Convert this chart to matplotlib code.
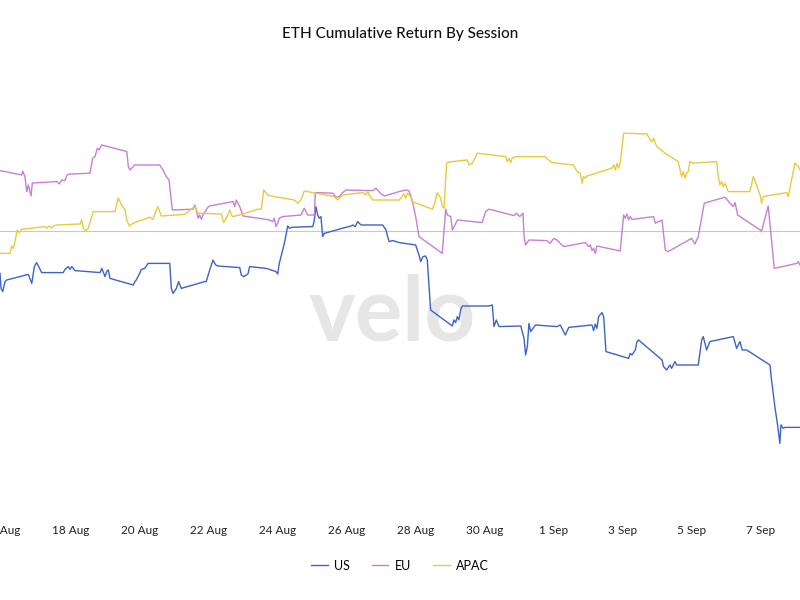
import matplotlib.pyplot as plt
import pandas as pd

# horas desde 16 Aug 00:00 e retorno acumulado (%) de cada sessao
us_h = [-1.4, -0.7, 0.5, 2.1, 3.3, 18.3, 20.7, 22.5, 24.1, 27.6, 42.6, 43.8, 46.1, 47.3, 48.5, 50.8,
        68.2, 69.4, 71.7, 72.8, 74.0, 75.1, 91.3, 92.5, 93.4, 94.6, 95.8, 96.9, 99.3, 101.6, 116.7,
        117.8, 119.0, 121.3, 122.9, 124.7, 141.0, 142.1, 144.5, 146.8, 148.7, 150.3, 165.4, 166.5,
        168.2, 171.1, 172.3, 183.9, 190.6, 191.8, 192.9, 195.3, 196.4, 197.6, 198.8, 199.9, 202.2,
        216.2, 217.3, 218.4, 219.6, 220.7, 221.9, 223.1, 224.2, 237.0, 242.8, 244.0, 245.8, 247.4,
        249.8, 264.8, 267.2, 268.3, 269.4, 271.8, 276.4, 287.8, 290.1, 291.3, 292.9, 294.7, 295.9,
        298.2, 313.3, 314.4, 315.6, 316.8, 317.9, 319.1, 320.2, 338.8, 341.1, 342.3, 343.9, 345.8,
        360.9, 363.2, 364.3, 365.5, 366.6, 367.8, 371.2, 386.1, 388.4, 391.9, 394.3, 410.5, 411.6,
        412.8, 413.9, 415.1, 417.4, 418.6, 420.2, 436.0, 437.1, 438.3, 440.6, 441.8, 442.9, 459.2,
        460.3, 462.4, 464.7, 465.9, 468.2, 469.4, 484.4, 486.8, 487.9, 490.2, 492.5, 508.8, 511.1,
        513.4, 515.0, 518.1, 534.3, 535.4, 537.7, 539.6, 540.5, 541.2, 541.9, 543.5, 544.7, 555.2]
us_v = [-2.12, -2.87, -3.03, -2.53, -2.45, -2.17, -2.62, -1.78, -1.58, -2.08, -2.08, -1.92, -1.78,
        -1.92, -1.78, -1.98, -2.08, -1.87, -2.28, -2.03, -1.95, -2.37, -2.70, -2.53, -2.45, -2.28,
        -2.12, -1.92, -1.87, -1.62, -1.62, -2.87, -3.12, -2.87, -2.53, -2.87, -2.53, -2.53, -1.95,
        -1.45, -1.70, -1.75, -1.83, -2.20, -2.28, -2.15, -1.78, -1.87, -2.03, -2.15, -1.62, -0.95,
        -0.62, -0.20, 0.25, 0.14, 0.19, 0.22, 0.55, 1.22, 0.80, 0.64, 0.72, -0.28, -0.12, 0.14,
        0.25, 0.30, 0.22, 0.47, 0.30, 0.30, 0.05, -0.28, -0.53, -0.48, -0.58, -0.70, -1.20, -1.53,
        -1.28, -1.25, -1.45, -3.95, -4.75, -4.45, -4.58, -4.28, -4.45, -3.95, -3.75, -3.75, -3.70,
        -4.78, -4.45, -4.78, -4.75, -5.37, -6.20, -5.78, -4.62, -5.03, -4.70, -4.78, -4.70, -5.20,
        -4.82, -4.70, -4.98, -4.65, -4.87, -4.28, -4.08, -4.28, -6.03, -6.37, -6.12, -6.20, -5.95,
        -5.53, -5.45, -6.45, -6.78, -6.95, -6.70, -6.87, -6.53, -6.70, -6.70, -5.45, -5.28, -5.95,
        -5.53, -5.28, -5.87, -5.53, -5.95, -5.95, -6.70, -7.45, -8.78, -9.70, -10.20, -10.62,
        -9.70, -9.87, -9.82, -9.82]

eu_h = [-1.4, 13.7, 14.4, 16.0, 17.2, 18.3, 20.2, 21.1, 38.1, 39.9, 41.5, 43.8, 45.0, 46.1, 61.2,
        63.1, 64.7, 66.3, 67.5, 69.4, 86.8, 87.9, 89.0, 92.3, 109.7, 112.0, 114.3, 116.2, 118.5,
        132.9, 134.1, 135.2, 136.4, 137.5, 138.7, 139.8, 143.3, 144.5, 160.7, 161.9, 163.0, 165.4,
        167.7, 183.9, 186.0, 188.3, 189.4, 190.6, 191.8, 192.9, 195.3, 208.0, 210.3, 212.7, 217.3,
        218.0, 230.1, 232.4, 234.7, 237.0, 239.3, 257.9, 260.2, 263.7, 266.0, 276.4, 280.9, 283.1,
        285.4, 287.8, 290.1, 306.3, 308.7, 309.8, 312.2, 313.3, 315.1, 316.8, 334.1, 336.5, 338.8,
        356.2, 357.8, 360.2, 362.5, 363.2, 364.3, 366.6, 379.1, 381.4, 383.8, 386.1, 388.4, 390.8,
        405.8, 408.2, 409.3, 410.5, 411.6, 412.8, 413.9, 430.1, 432.5, 433.6, 434.8, 436.0, 437.1,
        438.3, 453.4, 454.5, 456.9, 459.2, 461.5, 463.5, 479.8, 482.1, 484.4, 488.6, 503.0, 506.5,
        508.8, 510.0, 511.8, 528.5, 533.1, 537.3, 552.9, 554.0, 555.2]
eu_v = [3.02, 2.80, 3.00, 2.70, 1.97, 2.30, 1.75, 2.40, 2.47, 2.35, 2.55, 2.52, 2.75, 2.84, 2.89,
        3.64, 3.72, 4.14, 4.05, 4.30, 3.97, 3.22, 3.05, 3.30, 3.30, 3.05, 2.72, 2.55, 1.05, 1.09,
        1.30, 1.05, 0.64, 0.80, 0.59, 0.80, 1.19, 1.25, 1.47, 1.22, 1.55, 1.22, 0.75, 0.58, 0.55,
        0.47, 0.64, 0.22, 0.39, 0.64, 0.72, 0.80, 1.14, 0.80, 0.80, 1.92, 1.89, 1.69, 1.72, 1.92,
        2.05, 2.02, 2.14, 1.85, 1.75, 1.97, 2.05, 2.02, 1.55, 0.72, -0.28, -1.12, 1.09, 0.80, 0.72,
        0.05, 0.30, 0.55, 0.42, 0.97, 1.09, 0.77, 0.89, 0.72, 0.89, -0.28, -0.70, -0.45, -0.48,
        -0.62, -0.37, -0.45, -0.62, -0.78, -0.58, -0.78, -0.70, -0.98, -0.87, -1.12, -0.75, -1.00,
        0.80, 0.64, 0.85, 0.55, 0.72, 0.58, 0.72, 0.39, 0.47, 0.55, -0.95, -1.03, -0.37, -0.65,
        -0.28, 1.39, 1.69, 1.39, 1.22, 1.42, 0.80, 0.00, 1.25, -1.87, -1.62, -1.53, -1.70]

apac_h = [-1.4, 5.6, 6.7, 7.9, 9.0, 10.6, 12.0, 13.7, 29.9, 31.1, 32.9, 34.6, 35.7, 38.1, 54.3,
          55.4, 56.6, 58.4, 60.0, 63.5, 78.6, 80.9, 83.3, 85.6, 86.8, 88.6, 91.3, 102.8, 105.0,
          107.4, 108.5, 110.8, 127.1, 129.4, 134.1, 136.4, 152.6, 154.2, 157.2, 158.4, 160.2,
          165.4, 178.1, 180.4, 182.1, 183.9, 184.8, 187.1, 203.4, 205.7, 208.0, 210.3, 231.2,
          233.5, 237.0, 250.9, 253.2, 254.4, 255.5, 257.9, 276.4, 279.7, 280.9, 282.0, 284.3,
          285.4, 299.4, 301.2, 302.8, 305.2, 306.3, 307.5, 309.4, 313.3, 323.7, 324.9, 327.2,
          330.7, 350.4, 351.5, 352.7, 353.9, 355.0, 357.4, 377.9, 380.3, 382.6, 397.7, 400.0,
          402.3, 403.6, 404.7, 405.8, 407.0, 424.4, 425.6, 426.7, 427.9, 429.0, 430.1, 432.5,
          448.7, 451.0, 452.2, 453.4, 454.5, 455.7, 456.9, 461.3, 470.5, 472.8, 474.0, 475.2,
          476.3, 477.5, 478.6, 480.9, 497.2, 498.3, 499.5, 500.7, 501.8, 503.0, 505.3, 520.4,
          522.7, 525.0, 527.4, 528.5, 529.6, 545.9, 547.0, 551.7, 554.0, 555.2]
apac_v = [-1.12, -1.12, -0.75, -0.87, -0.53, 0.05, -0.08, 0.08, 0.22, 0.14, 0.25, 0.14, 0.25, 0.30,
          0.35, 0.55, 0.14, 0.02, 0.14, 0.97, 0.97, 1.64, 1.30, 1.05, 0.55, 0.25, 0.39, 0.69, 0.58,
          1.05, 1.22, 0.75, 0.83, 0.97, 1.22, 0.89, 0.85, 0.42, 0.80, 1.05, 0.72, 0.80, 1.09, 1.09,
          2.05, 1.89, 1.80, 1.75, 1.55, 1.39, 1.55, 2.00, 1.72, 1.55, 1.80, 1.92, 1.80, 1.97, 1.80,
          1.55, 1.55, 1.85, 1.64, 1.89, 1.72, 1.47, 1.09, 1.42, 1.92, 1.64, 1.22, 1.14, 3.42, 3.47,
          3.55, 3.30, 3.39, 3.89, 3.72, 3.47, 3.64, 3.42, 3.64, 3.72, 3.72, 3.55, 3.42, 3.30, 2.97,
          2.89, 2.39, 2.72, 2.64, 2.75, 3.14, 3.30, 3.05, 3.39, 3.14, 3.42, 4.89, 4.85, 4.55, 4.47,
          4.64, 4.39, 4.22, 4.14, 3.89, 3.47, 2.72, 2.97, 2.64, 2.89, 2.97, 3.47, 3.39, 3.47, 2.72,
          2.30, 2.47, 2.22, 2.39, 1.97, 1.97, 2.72, 2.30, 1.80, 1.39, 1.72, 1.92, 1.72, 3.39, 3.22,
          3.05]

tick_labels = ['16 Aug', '18 Aug', '20 Aug', '22 Aug', '24 Aug', '26 Aug', '28 Aug', '30 Aug',
               '1 Sep', '3 Sep', '5 Sep', '7 Sep']
tick_dates = ['2024-08-16', '2024-08-18', '2024-08-20', '2024-08-22', '2024-08-24', '2024-08-26',
              '2024-08-28', '2024-08-30', '2024-09-01', '2024-09-03', '2024-09-05', '2024-09-07']

base = pd.Timestamp('2024-08-16')
def horas(h):
    return base + pd.to_timedelta(h, unit='h')

plt.rcParams['font.family'] = ['Lato', 'DejaVu Sans']

fig = plt.figure(figsize=(8, 6), dpi=100)
ax = fig.add_axes([0, 0.1417, 1, 0.7583])

# marca d'agua
ax.text(0.49, 0.44, 'velo', transform=ax.transAxes, ha='center', va='center',
        fontsize=64, fontweight='bold', color='#e6e6e6', zorder=0)

ax.axhline(0, color='#c8c8c8', lw=0.8, zorder=1)
ax.plot(horas(us_h), us_v, color='#3d63c4', lw=1.0, label='US', zorder=3)
ax.plot(horas(eu_h), eu_v, color='#c77ed8', lw=1.0, label='EU', zorder=3)
ax.plot(horas(apac_h), apac_v, color='#e9c93f', lw=1.0, label='APAC', zorder=3)

ax.set_xlim(horas(-1.4), horas(555.2))
ax.set_ylim(-14.2, 8.55)
ax.set_xticks(pd.to_datetime(tick_dates))
ax.set_xticklabels(tick_labels, fontsize=8.5, color='#222222')
ax.set_yticks([])
ax.tick_params(axis='x', length=0, pad=7)
for s in ax.spines.values():
    s.set_visible(False)

fig.suptitle('ETH Cumulative Return By Session', x=0.5, y=0.955, fontsize=11, color='#111111',
             fontweight='medium')
fig.legend(loc='center', bbox_to_anchor=(0.5, 0.057), ncol=3, frameon=False, fontsize=9,
           handlelength=1.3, columnspacing=1.8, handletextpad=0.5)

fig.savefig('out.png', dpi=100)
